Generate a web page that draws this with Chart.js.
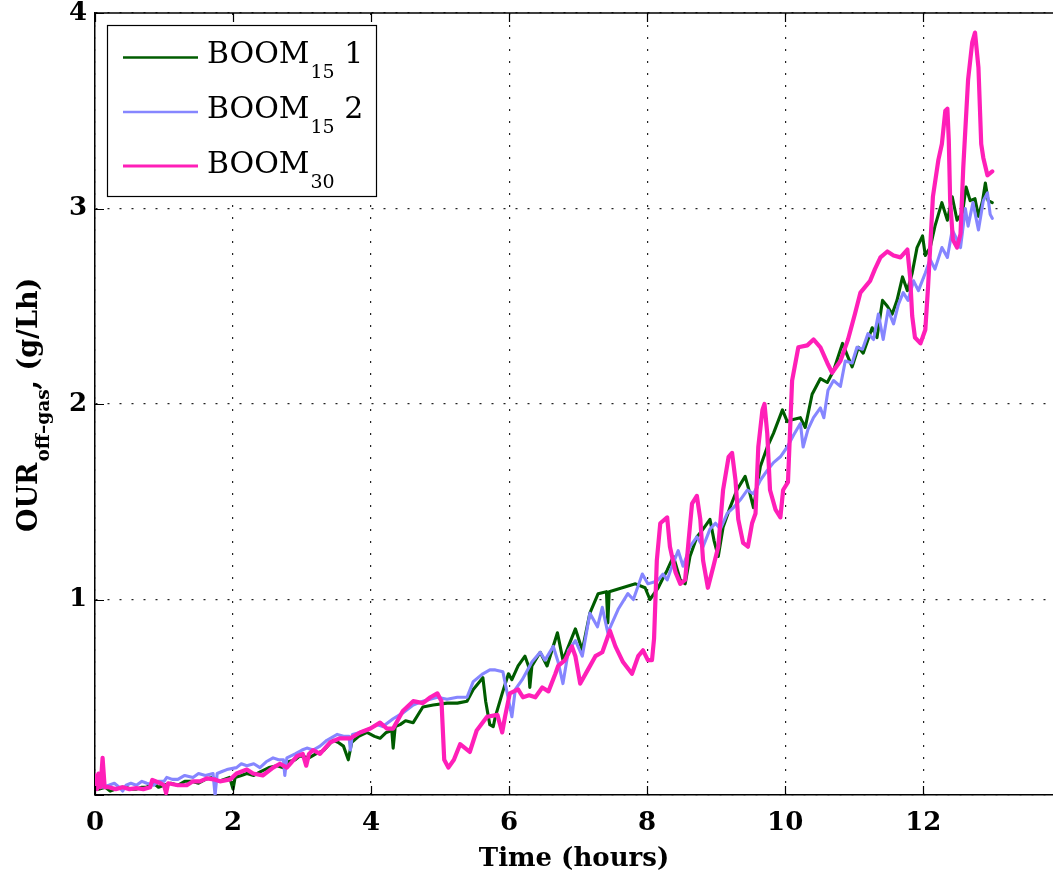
<!DOCTYPE html>
<html>
<head>
<meta charset="utf-8">
<script src="https://cdn.jsdelivr.net/npm/chart.js@4.4.1/dist/chart.umd.min.js"></script>
<style>
  html, body { margin: 0; padding: 0; background: #fff; overflow: hidden; }
  #wrap { width: 1053px; height: 878px; position: relative; }
</style>
</head>
<body>
<div id="wrap"><canvas id="c" width="1053" height="878"></canvas></div>
<script>
// Axis ticks
const xTicks = [0, 2, 4, 6, 8, 10, 12];
const yTicks = [0, 1, 2, 3, 4];

// Legend entries: main text, subscript, trailing text
const legendMain = ['BOOM', 'BOOM', 'BOOM'];
const legendSub = ['15', '15', '30'];
const legendTail = [' 1', ' 2', ''];

// BOOM15 run 1 — time (h) and OUR (g/Lh)
const tRun1 = [0.00,0.05,0.15,0.22,0.30,0.38,0.45,0.52,0.60,0.68,0.75,0.85,0.92,1.00,1.10,1.20,1.30,1.40,1.50,1.60,1.70,1.80,1.95,2.00,2.03,2.12,2.20,2.30,2.40,2.52,2.64,2.72,2.80,2.90,2.97,3.10,3.20,3.32,3.45,3.52,3.60,3.67,3.72,3.82,3.94,4.05,4.13,4.22,4.30,4.32,4.35,4.42,4.50,4.61,4.75,4.90,5.10,5.25,5.39,5.48,5.62,5.66,5.72,5.77,5.80,5.90,5.99,6.04,6.13,6.23,6.28,6.30,6.33,6.38,6.45,6.55,6.70,6.78,6.96,7.06,7.17,7.29,7.41,7.43,7.45,7.64,7.83,7.97,8.04,8.16,8.23,8.29,8.38,8.48,8.55,8.62,8.72,8.81,8.91,8.97,9.03,9.10,9.20,9.30,9.42,9.49,9.54,9.64,9.74,9.83,9.96,10.03,10.10,10.22,10.29,10.39,10.51,10.61,10.70,10.83,10.91,10.97,11.06,11.13,11.26,11.33,11.41,11.48,11.55,11.62,11.70,11.77,11.84,11.91,11.99,12.03,12.10,12.17,12.27,12.35,12.42,12.49,12.57,12.62,12.68,12.75,12.80,12.86,12.90,12.94,13.00];
const vRun1 = [0.05,0.03,0.04,0.02,0.03,0.04,0.04,0.03,0.03,0.04,0.04,0.06,0.04,0.05,0.06,0.05,0.07,0.07,0.06,0.08,0.09,0.07,0.09,0.03,0.09,0.10,0.11,0.10,0.12,0.14,0.15,0.14,0.17,0.18,0.20,0.19,0.21,0.23,0.28,0.27,0.25,0.18,0.27,0.30,0.32,0.30,0.29,0.32,0.33,0.24,0.35,0.36,0.38,0.37,0.45,0.46,0.47,0.47,0.48,0.54,0.60,0.48,0.36,0.35,0.40,0.52,0.62,0.59,0.66,0.71,0.66,0.55,0.66,0.69,0.73,0.66,0.83,0.69,0.85,0.74,0.93,1.03,1.04,0.88,1.04,1.06,1.08,1.06,1.00,1.06,1.11,1.15,1.22,1.10,1.08,1.22,1.32,1.36,1.41,1.30,1.22,1.37,1.47,1.56,1.63,1.54,1.47,1.68,1.78,1.85,1.97,1.91,1.92,1.93,1.88,2.05,2.13,2.11,2.17,2.31,2.24,2.19,2.29,2.26,2.39,2.34,2.53,2.50,2.46,2.53,2.65,2.58,2.67,2.80,2.86,2.76,2.80,2.91,3.03,2.94,3.06,2.94,2.98,3.11,3.04,3.05,2.96,3.04,3.13,3.04,3.03];

// BOOM15 run 2
const tRun2 = [0.00,0.10,0.20,0.28,0.35,0.40,0.45,0.52,0.60,0.68,0.75,0.85,0.92,1.00,1.04,1.12,1.20,1.30,1.42,1.50,1.60,1.71,1.74,1.77,1.84,1.91,2.05,2.12,2.20,2.30,2.39,2.48,2.58,2.66,2.73,2.75,2.78,2.90,3.00,3.07,3.16,3.26,3.36,3.51,3.60,3.68,3.70,3.73,3.84,3.99,4.08,4.17,4.32,4.46,4.61,4.75,4.96,5.10,5.25,5.39,5.48,5.62,5.72,5.80,5.91,5.99,6.04,6.09,6.19,6.33,6.45,6.52,6.64,6.71,6.78,6.86,6.96,7.06,7.17,7.28,7.35,7.43,7.58,7.72,7.80,7.93,8.01,8.10,8.16,8.23,8.29,8.36,8.45,8.52,8.62,8.72,8.81,8.91,8.99,9.06,9.16,9.25,9.35,9.45,9.54,9.64,9.74,9.83,9.93,10.03,10.12,10.22,10.26,10.33,10.41,10.51,10.56,10.62,10.70,10.80,10.87,10.97,11.04,11.12,11.20,11.28,11.35,11.42,11.49,11.57,11.64,11.71,11.78,11.86,11.93,12.03,12.10,12.17,12.27,12.35,12.42,12.49,12.54,12.61,12.65,12.72,12.80,12.87,12.93,12.97,13.00];
const vRun2 = [0.06,0.04,0.05,0.06,0.04,0.02,0.05,0.06,0.05,0.07,0.06,0.05,0.07,0.07,0.09,0.08,0.08,0.10,0.09,0.11,0.10,0.11,0.00,0.11,0.12,0.13,0.14,0.16,0.15,0.16,0.14,0.17,0.19,0.18,0.18,0.10,0.19,0.21,0.23,0.24,0.23,0.25,0.28,0.31,0.30,0.30,0.23,0.31,0.32,0.34,0.36,0.35,0.39,0.42,0.46,0.48,0.50,0.49,0.50,0.50,0.58,0.62,0.64,0.64,0.63,0.49,0.40,0.54,0.59,0.68,0.73,0.69,0.76,0.68,0.57,0.74,0.79,0.71,0.93,0.86,0.96,0.83,0.95,1.03,1.00,1.13,1.08,1.09,1.10,1.13,1.10,1.17,1.25,1.17,1.27,1.32,1.27,1.36,1.39,1.36,1.44,1.47,1.51,1.56,1.54,1.61,1.66,1.70,1.73,1.78,1.84,1.90,1.78,1.87,1.93,1.98,1.93,2.07,2.12,2.09,2.22,2.21,2.29,2.28,2.36,2.33,2.46,2.33,2.48,2.41,2.51,2.57,2.53,2.63,2.58,2.67,2.74,2.69,2.80,2.75,2.89,2.84,2.80,3.00,2.91,3.03,2.89,3.04,3.08,2.97,2.95];

// BOOM30
const tRun3 = [0.00,0.03,0.05,0.08,0.11,0.14,0.20,0.30,0.40,0.50,0.60,0.70,0.80,0.83,0.95,1.00,1.03,1.06,1.20,1.33,1.42,1.52,1.62,1.72,1.81,1.96,2.05,2.20,2.29,2.43,2.58,2.68,2.78,2.93,3.01,3.06,3.10,3.16,3.26,3.41,3.55,3.70,3.84,3.99,4.13,4.23,4.32,4.46,4.61,4.75,4.86,4.96,5.02,5.06,5.12,5.20,5.29,5.43,5.53,5.68,5.83,5.90,5.94,6.01,6.13,6.20,6.29,6.38,6.48,6.57,6.67,6.71,6.81,6.91,6.96,7.03,7.14,7.25,7.35,7.46,7.54,7.65,7.78,7.87,7.94,8.01,8.07,8.10,8.14,8.19,8.29,8.33,8.41,8.48,8.55,8.60,8.65,8.72,8.77,8.81,8.88,8.96,9.03,9.10,9.18,9.23,9.28,9.32,9.39,9.46,9.52,9.57,9.61,9.67,9.70,9.74,9.78,9.86,9.93,9.97,10.04,10.10,10.19,10.32,10.41,10.51,10.61,10.68,10.80,10.91,11.01,11.09,11.23,11.30,11.38,11.48,11.57,11.67,11.77,11.81,11.84,11.88,11.96,12.03,12.07,12.14,12.22,12.27,12.32,12.35,12.37,12.39,12.43,12.49,12.54,12.58,12.65,12.71,12.75,12.80,12.84,12.87,12.93,13.00];
const vRun3 = [0.10,0.03,0.11,0.04,0.19,0.04,0.04,0.03,0.04,0.03,0.035,0.03,0.04,0.077,0.06,0.05,0.01,0.06,0.05,0.05,0.07,0.07,0.085,0.08,0.07,0.08,0.11,0.13,0.11,0.10,0.14,0.16,0.14,0.20,0.21,0.15,0.21,0.23,0.21,0.27,0.29,0.29,0.32,0.34,0.37,0.34,0.34,0.43,0.48,0.47,0.50,0.52,0.48,0.18,0.14,0.18,0.26,0.22,0.33,0.40,0.41,0.32,0.40,0.52,0.54,0.50,0.51,0.50,0.55,0.53,0.62,0.66,0.69,0.76,0.71,0.57,0.64,0.71,0.73,0.84,0.76,0.68,0.62,0.71,0.74,0.69,0.69,0.80,1.20,1.39,1.42,1.27,1.14,1.08,1.10,1.30,1.49,1.53,1.41,1.20,1.06,1.17,1.27,1.56,1.73,1.75,1.61,1.41,1.29,1.27,1.39,1.44,1.78,1.97,2.00,1.85,1.56,1.46,1.42,1.56,1.60,2.12,2.29,2.30,2.33,2.29,2.21,2.16,2.22,2.33,2.46,2.57,2.63,2.69,2.75,2.78,2.76,2.75,2.79,2.65,2.45,2.34,2.31,2.38,2.60,3.06,3.25,3.33,3.50,3.51,3.35,3.04,2.84,2.80,2.87,3.21,3.66,3.85,3.90,3.72,3.33,3.26,3.17,3.19];

const colors = ['#005c00', '#8686ff', '#ff1fb8'];
const widths = [3.1, 3.1, 4.2];

function pairs(t, v) { return t.map((x, i) => ({ x: x, y: v[i] })); }

const serifBold = (size) => ({ family: 'DejaVu Serif', weight: 'bold', size: size, lineHeight: 1 });

// Frame: top edge and inward tick marks
const framePlugin = {
  id: 'frame',
  afterDatasetsDraw(chart) {
    const { ctx, chartArea: a, scales } = chart;
    ctx.save();
    ctx.strokeStyle = '#000';
    ctx.lineWidth = 1.5;
    ctx.beginPath();
    ctx.moveTo(a.left, a.top);
    ctx.lineTo(a.right, a.top);
    ctx.stroke();
    ctx.lineWidth = 1.2;
    const len = 9;
    ctx.beginPath();
    xTicks.forEach(v => {
      const x = Math.round(scales.x.getPixelForValue(v)) + 0.5;
      ctx.moveTo(x, a.bottom); ctx.lineTo(x, a.bottom - len);
      ctx.moveTo(x, a.top); ctx.lineTo(x, a.top + len);
    });
    yTicks.forEach(v => {
      const y = Math.round(scales.y.getPixelForValue(v)) + 0.5;
      ctx.moveTo(a.left, y); ctx.lineTo(a.left + len, y);
    });
    ctx.stroke();
    ctx.restore();
  }
};

// Legend with subscripted labels, plus the rotated y-axis title
const annotPlugin = {
  id: 'annot',
  afterDraw(chart) {
    const ctx = chart.ctx;
    ctx.save();
    const bx = 107.5, by = 25.5, bw = 269, bh = 171;
    ctx.fillStyle = '#fff';
    ctx.fillRect(bx, by, bw, bh);
    ctx.strokeStyle = '#000';
    ctx.lineWidth = 1.2;
    ctx.strokeRect(bx, by, bw, bh);
    const lineY = [57.5, 112, 166];
    const baseY = [63, 118, 172.5];
    for (let i = 0; i < 3; i++) {
      ctx.strokeStyle = colors[i];
      ctx.lineWidth = i === 2 ? 3 : 2.3;
      ctx.beginPath();
      ctx.moveTo(123, lineY[i]);
      ctx.lineTo(198, lineY[i]);
      ctx.stroke();
      ctx.fillStyle = '#000';
      ctx.textBaseline = 'alphabetic';
      ctx.textAlign = 'left';
      let x = 207;
      ctx.font = '30px "DejaVu Serif"';
      ctx.fillText(legendMain[i], x, baseY[i]);
      x += ctx.measureText(legendMain[i]).width + 1;
      ctx.font = '19px "DejaVu Serif"';
      ctx.fillText(legendSub[i], x, baseY[i] + 15);
      x += ctx.measureText(legendSub[i]).width;
      ctx.font = '30px "DejaVu Serif"';
      ctx.fillText(legendTail[i], x, baseY[i]);
    }
    // y-axis title
    ctx.translate(37, 532);
    ctx.rotate(-Math.PI / 2);
    ctx.fillStyle = '#000';
    ctx.textBaseline = 'alphabetic';
    ctx.textAlign = 'left';
    let x = 0;
    ctx.font = 'bold 27px "DejaVu Serif"';
    ctx.fillText('OUR', x, 0);
    x += ctx.measureText('OUR').width + 1;
    ctx.font = 'bold 18.5px "DejaVu Serif"';
    ctx.fillText('off\u2013gas', x, 12);
    x += ctx.measureText('off\u2013gas').width;
    ctx.font = 'bold 27px "DejaVu Serif"';
    ctx.fillText(', (g/Lh)', x, 0);
    ctx.restore();
  }
};

new Chart(document.getElementById('c'), {
  type: 'line',
  data: {
    datasets: [
      { label: 'BOOM15 1', data: pairs(tRun1, vRun1), borderColor: colors[0], borderWidth: widths[0], order: 3 },
      { label: 'BOOM15 2', data: pairs(tRun2, vRun2), borderColor: colors[1], borderWidth: widths[1], order: 2 },
      { label: 'BOOM30', data: pairs(tRun3, vRun3), borderColor: colors[2], borderWidth: widths[2], order: 1 }
    ]
  },
  options: {
    responsive: false,
    animation: false,
    devicePixelRatio: 1,
    layout: { padding: { top: 13, left: 0, right: 0, bottom: 0 } },
    elements: {
      point: { radius: 0, hoverRadius: 0 },
      line: { tension: 0, fill: false, borderJoinStyle: 'round', borderCapStyle: 'round' }
    },
    plugins: { legend: { display: false }, tooltip: { enabled: false }, title: { display: false } },
    scales: {
      x: {
        type: 'linear',
        min: 0,
        max: 13.88,
        afterBuildTicks: s => { s.ticks = xTicks.map(v => ({ value: v })); },
        afterFit: s => { s.height = 83; s.paddingLeft = 0; s.paddingRight = 0; s.paddingTop = 0; s.paddingBottom = 0; },
        grid: { color: '#222', lineWidth: 1.2, drawTicks: false },
        border: { display: true, color: '#000', width: 1.5, dash: [2, 10] },
        ticks: { color: '#000', font: serifBold(26), padding: 15, maxRotation: 0, autoSkip: false },
        title: { display: true, text: 'Time (hours)', color: '#000', font: { family: 'DejaVu Serif', weight: 'bold', size: 26 }, padding: { top: 0, bottom: 3 } }
      },
      y: {
        type: 'linear',
        min: 0,
        max: 4,
        afterBuildTicks: s => { s.ticks = yTicks.map(v => ({ value: v })); },
        afterFit: s => { s.width = 95; s.paddingLeft = 0; s.paddingRight = 0; s.paddingTop = 0; s.paddingBottom = 0; },
        grid: { color: '#222', lineWidth: 1.2, drawTicks: false },
        border: { display: true, color: '#000', width: 1.5, dash: [2, 10] },
        ticks: { color: '#000', font: serifBold(26), padding: 8, autoSkip: false, callback: v => (v === 0 ? '' : String(v)) }
      }
    }
  },
  plugins: [framePlugin, annotPlugin]
});
</script>
</body>
</html>
